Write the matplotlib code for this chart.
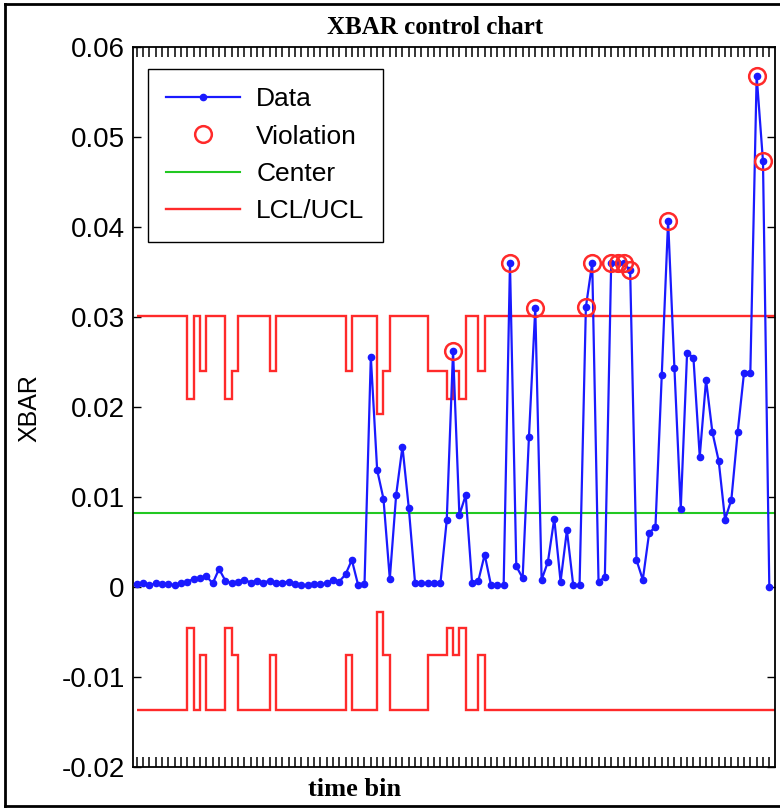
import matplotlib
matplotlib.use('Agg')
import matplotlib.pyplot as plt
import numpy as np
from matplotlib.lines import Line2D

# ---------------- data ----------------
time_bin = list(range(101))

xbar = [
    0.0003, 0.0004, 0.0002, 0.0004, 0.0003, 0.0003, 0.0002, 0.0004, 0.0006, 0.0009,
    0.0010, 0.0012, 0.0004, 0.0020, 0.0007, 0.0004, 0.0006, 0.0008, 0.0005, 0.0007,
    0.0005, 0.0007, 0.0004, 0.0005, 0.0006, 0.0003, 0.0002, 0.0002, 0.0003, 0.0003,
    0.0004, 0.0008, 0.0006, 0.0014, 0.0030, 0.0002, 0.0003, 0.0256, 0.0130, 0.0098,
    0.0009, 0.0102, 0.0156, 0.0088, 0.0004, 0.0004, 0.0004, 0.0004, 0.0004, 0.0074,
    0.0262, 0.0080, 0.0102, 0.0005, 0.0007, 0.0036, 0.0002, 0.0002, 0.0002, 0.0360,
    0.0023, 0.0010, 0.0167, 0.0310, 0.0008, 0.0028, 0.0076, 0.0006, 0.0063, 0.0002,
    0.0002, 0.0311, 0.0360, 0.0006, 0.0011, 0.0360, 0.0360, 0.0360, 0.0352, 0.0030,
    0.0008, 0.0060, 0.0067, 0.0236, 0.0407, 0.0243, 0.0087, 0.0260, 0.0255, 0.0145,
    0.0230, 0.0172, 0.0140, 0.0075, 0.0097, 0.0172, 0.0238, 0.0238, 0.0568, 0.0473,
    0.0000,
]

ucl = [
    0.0301, 0.0301, 0.0301, 0.0301, 0.0301, 0.0301, 0.0301, 0.0301, 0.0209, 0.0301,
    0.0240, 0.0301, 0.0301, 0.0301, 0.0209, 0.0240, 0.0301, 0.0301, 0.0301, 0.0301,
    0.0301, 0.0240, 0.0301, 0.0301, 0.0301, 0.0301, 0.0301, 0.0301, 0.0301, 0.0301,
    0.0301, 0.0301, 0.0301, 0.0240, 0.0301, 0.0301, 0.0301, 0.0301, 0.0192, 0.0240,
    0.0301, 0.0301, 0.0301, 0.0301, 0.0301, 0.0301, 0.0240, 0.0240, 0.0240, 0.0209,
    0.0240, 0.0209, 0.0301, 0.0301, 0.0240, 0.0301, 0.0301, 0.0301, 0.0301, 0.0301,
    0.0301, 0.0301, 0.0301, 0.0301, 0.0301, 0.0301, 0.0301, 0.0301, 0.0301, 0.0301,
    0.0301, 0.0301, 0.0301, 0.0301, 0.0301, 0.0301, 0.0301, 0.0301, 0.0301, 0.0301,
    0.0301, 0.0301, 0.0301, 0.0301, 0.0301, 0.0301, 0.0301, 0.0301, 0.0301, 0.0301,
    0.0301, 0.0301, 0.0301, 0.0301, 0.0301, 0.0301, 0.0301, 0.0301, 0.0301, 0.0301,
    0.0301,
]

lcl = [
    -0.0137, -0.0137, -0.0137, -0.0137, -0.0137, -0.0137, -0.0137, -0.0137, -0.0045, -0.0137,
    -0.0076, -0.0137, -0.0137, -0.0137, -0.0045, -0.0076, -0.0137, -0.0137, -0.0137, -0.0137,
    -0.0137, -0.0076, -0.0137, -0.0137, -0.0137, -0.0137, -0.0137, -0.0137, -0.0137, -0.0137,
    -0.0137, -0.0137, -0.0137, -0.0076, -0.0137, -0.0137, -0.0137, -0.0137, -0.0028, -0.0076,
    -0.0137, -0.0137, -0.0137, -0.0137, -0.0137, -0.0137, -0.0076, -0.0076, -0.0076, -0.0045,
    -0.0076, -0.0045, -0.0137, -0.0137, -0.0076, -0.0137, -0.0137, -0.0137, -0.0137, -0.0137,
    -0.0137, -0.0137, -0.0137, -0.0137, -0.0137, -0.0137, -0.0137, -0.0137, -0.0137, -0.0137,
    -0.0137, -0.0137, -0.0137, -0.0137, -0.0137, -0.0137, -0.0137, -0.0137, -0.0137, -0.0137,
    -0.0137, -0.0137, -0.0137, -0.0137, -0.0137, -0.0137, -0.0137, -0.0137, -0.0137, -0.0137,
    -0.0137, -0.0137, -0.0137, -0.0137, -0.0137, -0.0137, -0.0137, -0.0137, -0.0137, -0.0137,
    -0.0137,
]

center = 0.0082

y_ticks = [-0.02, -0.01, 0, 0.01, 0.02, 0.03, 0.04, 0.05, 0.06]
y_tick_labels = ['-0.02', '-0.01', '0', '0.01', '0.02', '0.03', '0.04', '0.05', '0.06']

# ---------------- figure ----------------
W, H = 780, 810
fig = plt.figure(figsize=(W / 100, H / 100), dpi=100)
fig.patch.set_facecolor('white')

ax = fig.add_axes([133 / W, 1 - 767 / H, 642 / W, 720 / H])

BLUE = '#1a1aff'
RED = '#ff2a2a'
GREEN = '#22c822'

x = np.array(time_bin, dtype=float)
y = np.array(xbar)
u = np.array(ucl)
l = np.array(lcl)
edges = np.append(x, x[-1] + 1)

ax.stairs(u, edges, baseline=None, color=RED, lw=1.7, zorder=2)
ax.stairs(l, edges, baseline=None, color=RED, lw=1.7, zorder=2)
ax.axhline(center, color=GREEN, lw=1.5, zorder=2)

ax.plot(x, y, '-', color=BLUE, lw=1.6, marker='.', ms=9, zorder=3)

viol = (y > u) | (y < l)
ax.plot(x[viol], y[viol], 'o', mfc='none', mec=RED, mew=1.8, ms=12, zorder=4)

ax.set_xlim(-0.6, 100.9)
ax.set_ylim(-0.02, 0.06)

ax.set_xticks(time_bin)
ax.set_xticklabels([])
ax.set_yticks(y_ticks)
ax.set_yticklabels(y_tick_labels, fontfamily='Liberation Sans', fontsize=20)
ax.tick_params(axis='x', direction='in', top=True, bottom=True, length=7, width=1.1)
ax.tick_params(axis='y', direction='in', left=True, right=True, length=6, width=1.0, pad=6)
for s in ax.spines.values():
    s.set_linewidth(1.3)

# legend
handles = [
    Line2D([], [], color=BLUE, lw=1.6, marker='.', ms=9),
    Line2D([], [], ls='none', marker='o', mfc='none', mec=RED, mew=1.8, ms=12),
    Line2D([], [], color=GREEN, lw=1.5),
    Line2D([], [], color=RED, lw=1.7),
]
leg = ax.legend(handles, ['Data', 'Violation', 'Center', 'LCL/UCL'],
                loc='upper left', bbox_to_anchor=((148 - 133) / 642, (767 - 69) / 720),
                borderaxespad=0, fancybox=False, framealpha=1, edgecolor='black',
                prop={'family': 'Liberation Sans', 'size': 19},
                handlelength=2.8, handletextpad=0.6, borderpad=0.7,
                labelspacing=0.5)
leg.get_frame().set_linewidth(1.0)

# titles / labels
fig.text(435 / W, 1 - 28 / H, 'XBAR control chart', ha='center', va='center',
         fontfamily='Liberation Serif', fontweight='bold', fontsize=18)
fig.text(355 / W, 1 - 790 / H, 'time bin', ha='center', va='center',
         fontfamily='Liberation Serif', fontweight='bold', fontsize=19)
fig.text(29 / W, 1 - 408 / H, 'XBAR', ha='center', va='center', rotation=90,
         fontfamily='Liberation Sans', fontsize=18)

# outer frame
for (x0, y0, x1, y1) in [(5, 4, 780, 4), (5, 4, 5, 806), (5, 806, 780, 806)]:
    fig.add_artist(Line2D([x0 / W, x1 / W], [1 - y0 / H, 1 - y1 / H],
                          transform=fig.transFigure, color='black', lw=2))

fig.savefig('out.png', dpi=100)
